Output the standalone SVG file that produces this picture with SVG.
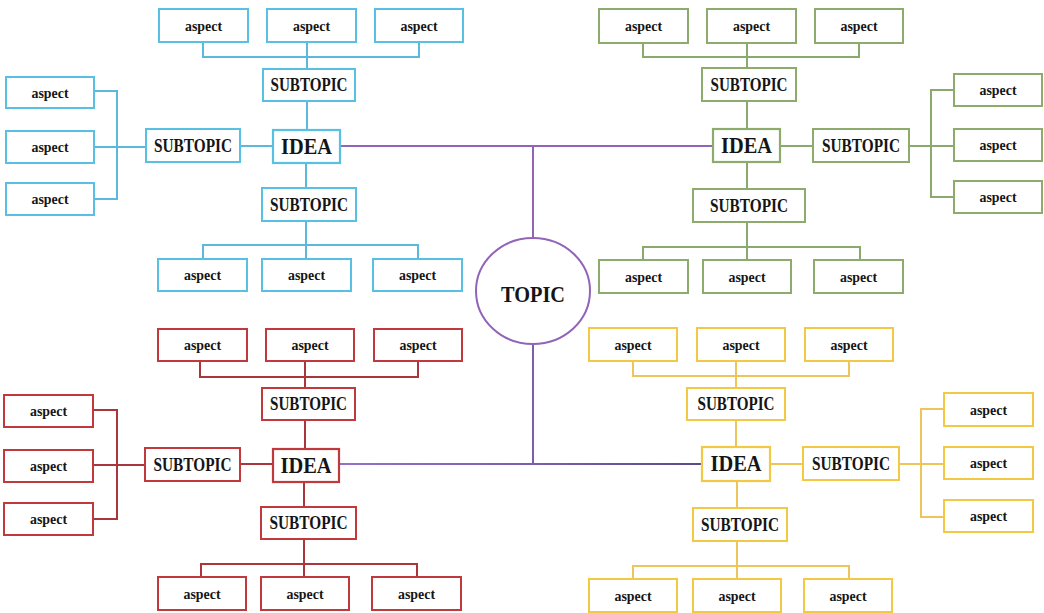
<svg xmlns="http://www.w3.org/2000/svg" width="1044" height="613" viewBox="0 0 1044 613">
  <defs>
    <style>
      rect { fill: #ffffff; stroke-width: 2; }
      .idea rect { stroke-width: 2.2; }
      text { font-family: "Liberation Serif", "Times New Roman", serif; font-weight: bold; fill: #151515; text-anchor: middle; }
      .asp text { font-size: 14px; }
      .sub text { font-size: 18px; }
      .idea text { font-size: 23px; }
      .blue rect { stroke: #58c0e3; }
      .green rect { stroke: #8cab6c; }
      .red rect { stroke: #c0393d; }
      .yellow rect { stroke: #f3c842; }
      #connectors path { fill: none; stroke-width: 2; }
      #connectors .blue { stroke: #5cb9de; }
      #connectors .green { stroke: #8aa96c; }
      #connectors .red { stroke: #a9363a; }
      #connectors .yellow { stroke: #edc55a; }
      #connectors .trunk { stroke: #9164b8; }
    </style>
    <linearGradient id="lowerTrunk" gradientUnits="userSpaceOnUse" x1="339" y1="0" x2="702" y2="0">
      <stop offset="0" stop-color="#9572c8"/>
      <stop offset="0.55" stop-color="#7a5ea8"/>
      <stop offset="1" stop-color="#5a4c88"/>
    </linearGradient>
  </defs>
  <rect x="0" y="0" width="1044" height="613" style="fill:#ffffff;stroke:none"/>

  <!-- connectors -->
  <g id="connectors">
    <!-- central trunk -->
    <path class="trunk" d="M340 146 H713 M533 146 V238"/>
    <path d="M533 344 V464 M339 464 H702" style="stroke:url(#lowerTrunk)"/>

    <!-- blue branch -->
    <path class="blue" d="M203 42 V57 H419 V42 M307 42 V69 M307 101 V130 M240 146 H273"/>
    <path class="blue" d="M94 91 H117 V199 H94 M94 147 H146"/>
    <path class="blue" d="M306 163 V188 M306 221 V259 M203 259 V245 H418 V259"/>

    <!-- green branch -->
    <path class="green" d="M643 43 V57 H859 V43 M747 43 V68 M747 101 V129 M780 146 H813"/>
    <path class="green" d="M909 146 H954 M954 90 H931 V197 H954"/>
    <path class="green" d="M747 162 V189 M747 222 V260 M643 260 V247 H860 V260"/>

    <!-- red branch -->
    <path class="red" d="M200 361 V377 H418 V361 M305 361 V388 M305 420 V449 M240 464 H273"/>
    <path class="red" d="M93 410 H117 V519 H93 M93 465 H145"/>
    <path class="red" d="M304 482 V507 M304 539 V577 M201 577 V564 H417 V577"/>

    <!-- yellow branch -->
    <path class="yellow" d="M633 361 V376 H849 V361 M736 361 V388 M736 420 V447 M770 464 H803"/>
    <path class="yellow" d="M899 464 H944 M944 409 H921 V517 H944"/>
    <path class="yellow" d="M737 481 V508 M737 541 V579 M633 579 V566 H849 V579"/>
  </g>

  <!-- central topic -->
  <g id="topic">
    <ellipse cx="533" cy="291" rx="57" ry="53" fill="#ffffff" stroke="#9164b8" stroke-width="2"/>
    <text x="533" y="302" style="font-size:24px" textLength="64" lengthAdjust="spacingAndGlyphs">TOPIC</text>
  </g>

  <!-- blue idea -->
  <g id="idea-blue" class="idea blue"><rect x="273" y="130" width="67" height="33"/><text x="306.5" y="153.5" textLength="51" lengthAdjust="spacingAndGlyphs">IDEA</text></g>
  <g id="sub-blue-top" class="sub blue"><rect x="263" y="69" width="92" height="32"/><text x="309" y="90.7" textLength="77" lengthAdjust="spacingAndGlyphs">SUBTOPIC</text></g>
  <g id="sub-blue-left" class="sub blue"><rect x="146" y="129" width="94" height="33"/><text x="193" y="151.5" textLength="78" lengthAdjust="spacingAndGlyphs">SUBTOPIC</text></g>
  <g id="sub-blue-bottom" class="sub blue"><rect x="262" y="188" width="94" height="33"/><text x="309" y="210.5" textLength="78" lengthAdjust="spacingAndGlyphs">SUBTOPIC</text></g>
  <g id="asp-blue-t1" class="asp blue"><rect x="159" y="9" width="89" height="33"/><text x="203.5" y="30.5" textLength="37" lengthAdjust="spacingAndGlyphs">aspect</text></g>
  <g id="asp-blue-t2" class="asp blue"><rect x="267" y="9" width="89" height="33"/><text x="311.5" y="30.5" textLength="37" lengthAdjust="spacingAndGlyphs">aspect</text></g>
  <g id="asp-blue-t3" class="asp blue"><rect x="375" y="9" width="88" height="33"/><text x="419" y="30.5" textLength="37" lengthAdjust="spacingAndGlyphs">aspect</text></g>
  <g id="asp-blue-l1" class="asp blue"><rect x="6" y="77" width="88" height="31"/><text x="50" y="97.5" textLength="37" lengthAdjust="spacingAndGlyphs">aspect</text></g>
  <g id="asp-blue-l2" class="asp blue"><rect x="6" y="131" width="88" height="32"/><text x="50" y="152" textLength="37" lengthAdjust="spacingAndGlyphs">aspect</text></g>
  <g id="asp-blue-l3" class="asp blue"><rect x="6" y="183" width="88" height="32"/><text x="50" y="204" textLength="37" lengthAdjust="spacingAndGlyphs">aspect</text></g>
  <g id="asp-blue-b1" class="asp blue"><rect x="158" y="259" width="89" height="32"/><text x="202.5" y="280" textLength="37" lengthAdjust="spacingAndGlyphs">aspect</text></g>
  <g id="asp-blue-b2" class="asp blue"><rect x="262" y="259" width="89" height="32"/><text x="306.5" y="280" textLength="37" lengthAdjust="spacingAndGlyphs">aspect</text></g>
  <g id="asp-blue-b3" class="asp blue"><rect x="373" y="259" width="89" height="32"/><text x="417.5" y="280" textLength="37" lengthAdjust="spacingAndGlyphs">aspect</text></g>

  <!-- green idea -->
  <g id="idea-green" class="idea green"><rect x="713" y="129" width="67" height="33"/><text x="746.5" y="152.5" textLength="51" lengthAdjust="spacingAndGlyphs">IDEA</text></g>
  <g id="sub-green-top" class="sub green"><rect x="702" y="68" width="94" height="33"/><text x="749" y="90.5" textLength="77" lengthAdjust="spacingAndGlyphs">SUBTOPIC</text></g>
  <g id="sub-green-right" class="sub green"><rect x="813" y="129" width="96" height="33"/><text x="861" y="151.5" textLength="78" lengthAdjust="spacingAndGlyphs">SUBTOPIC</text></g>
  <g id="sub-green-bottom" class="sub green"><rect x="693" y="189" width="112" height="33"/><text x="749" y="211.5" textLength="78" lengthAdjust="spacingAndGlyphs">SUBTOPIC</text></g>
  <g id="asp-green-t1" class="asp green"><rect x="599" y="9" width="89" height="34"/><text x="643.5" y="31" textLength="37" lengthAdjust="spacingAndGlyphs">aspect</text></g>
  <g id="asp-green-t2" class="asp green"><rect x="707" y="9" width="89" height="34"/><text x="751.5" y="31" textLength="37" lengthAdjust="spacingAndGlyphs">aspect</text></g>
  <g id="asp-green-t3" class="asp green"><rect x="815" y="9" width="88" height="34"/><text x="859" y="31" textLength="37" lengthAdjust="spacingAndGlyphs">aspect</text></g>
  <g id="asp-green-r1" class="asp green"><rect x="954" y="74" width="88" height="32"/><text x="998" y="95" textLength="37" lengthAdjust="spacingAndGlyphs">aspect</text></g>
  <g id="asp-green-r2" class="asp green"><rect x="954" y="129" width="88" height="32"/><text x="998" y="150" textLength="37" lengthAdjust="spacingAndGlyphs">aspect</text></g>
  <g id="asp-green-r3" class="asp green"><rect x="954" y="181" width="88" height="32"/><text x="998" y="202" textLength="37" lengthAdjust="spacingAndGlyphs">aspect</text></g>
  <g id="asp-green-b1" class="asp green"><rect x="599" y="260" width="89" height="33"/><text x="643.5" y="281.5" textLength="37" lengthAdjust="spacingAndGlyphs">aspect</text></g>
  <g id="asp-green-b2" class="asp green"><rect x="703" y="260" width="88" height="33"/><text x="747" y="281.5" textLength="37" lengthAdjust="spacingAndGlyphs">aspect</text></g>
  <g id="asp-green-b3" class="asp green"><rect x="814" y="260" width="89" height="33"/><text x="858.5" y="281.5" textLength="37" lengthAdjust="spacingAndGlyphs">aspect</text></g>

  <!-- red idea -->
  <g id="idea-red" class="idea red"><rect x="273" y="449" width="66" height="33"/><text x="306" y="472.5" textLength="51" lengthAdjust="spacingAndGlyphs">IDEA</text></g>
  <g id="sub-red-top" class="sub red"><rect x="262" y="388" width="93" height="32"/><text x="308.5" y="409.7" textLength="77" lengthAdjust="spacingAndGlyphs">SUBTOPIC</text></g>
  <g id="sub-red-left" class="sub red"><rect x="145" y="448" width="95" height="33"/><text x="192.5" y="470.5" textLength="78" lengthAdjust="spacingAndGlyphs">SUBTOPIC</text></g>
  <g id="sub-red-bottom" class="sub red"><rect x="261" y="507" width="95" height="32"/><text x="308.5" y="528.7" textLength="78" lengthAdjust="spacingAndGlyphs">SUBTOPIC</text></g>
  <g id="asp-red-t1" class="asp red"><rect x="158" y="329" width="89" height="32"/><text x="202.5" y="350" textLength="37" lengthAdjust="spacingAndGlyphs">aspect</text></g>
  <g id="asp-red-t2" class="asp red"><rect x="266" y="329" width="88" height="32"/><text x="310" y="350" textLength="37" lengthAdjust="spacingAndGlyphs">aspect</text></g>
  <g id="asp-red-t3" class="asp red"><rect x="374" y="329" width="88" height="32"/><text x="418" y="350" textLength="37" lengthAdjust="spacingAndGlyphs">aspect</text></g>
  <g id="asp-red-l1" class="asp red"><rect x="4" y="395" width="89" height="32"/><text x="48.5" y="416" textLength="37" lengthAdjust="spacingAndGlyphs">aspect</text></g>
  <g id="asp-red-l2" class="asp red"><rect x="4" y="450" width="89" height="32"/><text x="48.5" y="471" textLength="37" lengthAdjust="spacingAndGlyphs">aspect</text></g>
  <g id="asp-red-l3" class="asp red"><rect x="4" y="503" width="89" height="32"/><text x="48.5" y="524" textLength="37" lengthAdjust="spacingAndGlyphs">aspect</text></g>
  <g id="asp-red-b1" class="asp red"><rect x="158" y="577" width="88" height="33"/><text x="202" y="598.5" textLength="37" lengthAdjust="spacingAndGlyphs">aspect</text></g>
  <g id="asp-red-b2" class="asp red"><rect x="261" y="577" width="88" height="33"/><text x="305" y="598.5" textLength="37" lengthAdjust="spacingAndGlyphs">aspect</text></g>
  <g id="asp-red-b3" class="asp red"><rect x="372" y="577" width="89" height="33"/><text x="416.5" y="598.5" textLength="37" lengthAdjust="spacingAndGlyphs">aspect</text></g>

  <!-- yellow idea -->
  <g id="idea-yellow" class="idea yellow"><rect x="702" y="447" width="68" height="34"/><text x="736" y="471" textLength="51" lengthAdjust="spacingAndGlyphs">IDEA</text></g>
  <g id="sub-yellow-top" class="sub yellow"><rect x="687" y="388" width="98" height="32"/><text x="736" y="409.7" textLength="77" lengthAdjust="spacingAndGlyphs">SUBTOPIC</text></g>
  <g id="sub-yellow-right" class="sub yellow"><rect x="803" y="447" width="96" height="33"/><text x="851" y="469.5" textLength="78" lengthAdjust="spacingAndGlyphs">SUBTOPIC</text></g>
  <g id="sub-yellow-bottom" class="sub yellow"><rect x="693" y="508" width="94" height="33"/><text x="740" y="530.5" textLength="78" lengthAdjust="spacingAndGlyphs">SUBTOPIC</text></g>
  <g id="asp-yellow-t1" class="asp yellow"><rect x="589" y="328" width="88" height="33"/><text x="633" y="349.5" textLength="37" lengthAdjust="spacingAndGlyphs">aspect</text></g>
  <g id="asp-yellow-t2" class="asp yellow"><rect x="697" y="328" width="88" height="33"/><text x="741" y="349.5" textLength="37" lengthAdjust="spacingAndGlyphs">aspect</text></g>
  <g id="asp-yellow-t3" class="asp yellow"><rect x="805" y="328" width="88" height="33"/><text x="849" y="349.5" textLength="37" lengthAdjust="spacingAndGlyphs">aspect</text></g>
  <g id="asp-yellow-r1" class="asp yellow"><rect x="944" y="393" width="89" height="33"/><text x="988.5" y="414.5" textLength="37" lengthAdjust="spacingAndGlyphs">aspect</text></g>
  <g id="asp-yellow-r2" class="asp yellow"><rect x="944" y="447" width="89" height="32"/><text x="988.5" y="468" textLength="37" lengthAdjust="spacingAndGlyphs">aspect</text></g>
  <g id="asp-yellow-r3" class="asp yellow"><rect x="944" y="500" width="89" height="32"/><text x="988.5" y="521" textLength="37" lengthAdjust="spacingAndGlyphs">aspect</text></g>
  <g id="asp-yellow-b1" class="asp yellow"><rect x="589" y="579" width="88" height="33"/><text x="633" y="600.5" textLength="37" lengthAdjust="spacingAndGlyphs">aspect</text></g>
  <g id="asp-yellow-b2" class="asp yellow"><rect x="693" y="579" width="88" height="33"/><text x="737" y="600.5" textLength="37" lengthAdjust="spacingAndGlyphs">aspect</text></g>
  <g id="asp-yellow-b3" class="asp yellow"><rect x="804" y="579" width="88" height="33"/><text x="848" y="600.5" textLength="37" lengthAdjust="spacingAndGlyphs">aspect</text></g>
</svg>
